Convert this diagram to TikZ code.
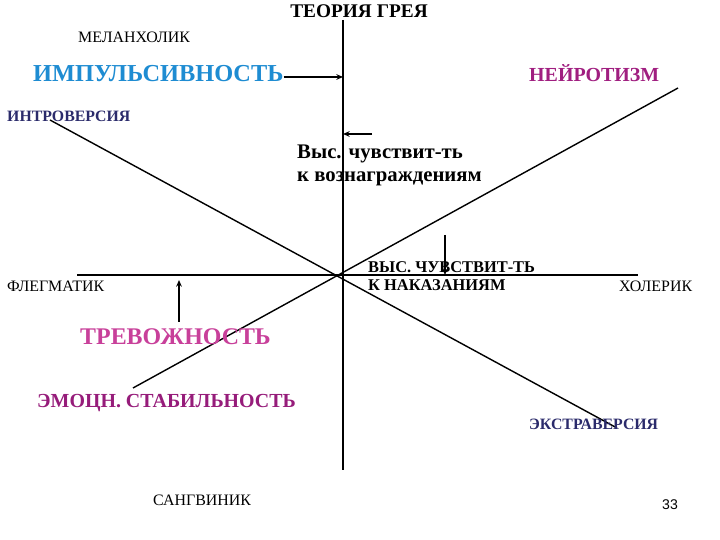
\documentclass[tikz,border=0pt]{standalone}
\usepackage{fontspec}
\setmainfont{Liberation Serif}
\newfontfamily\pagenumfont{Liberation Sans}
\usetikzlibrary{arrows.meta, positioning}
\definecolor{impulsblue}{RGB}{30,140,210}
\definecolor{neuropurple}{RGB}{160,30,128}
\definecolor{versnavy}{RGB}{43,43,107}
\definecolor{anxpink}{RGB}{200,64,154}
\definecolor{stabpurple}{RGB}{150,28,122}
\tikzset{
  % Text styles
  txt/.style={inner sep=0pt, anchor=base west},
  temper/.style={txt, font=\fontsize{13.6}{16}\selectfont},
  factor/.style={txt, font=\bfseries\fontsize{#1}{#1}\selectfont},
  factor/.default={13.5},
  % Line styles
  axis/.style={line width=0.9pt},
  diag/.style={line width=1.2pt},
  arrow/.style={-{Stealth[length=2mm, width=1.7mm]}, line width=1.3pt},
}

\begin{document}
\begin{tikzpicture}[x=0.03cm, y=-0.03cm]
    \useasboundingbox (0,0) rectangle (720,540);

    % Axes
    \coordinate (axtop) at (343,20);
    \coordinate (axbot) at (343,470);
    \coordinate (axleft) at (77,275);
    \coordinate (axright) at (638,275);
    \draw[axis] (axtop) -- (axbot);
    \draw[axis] (axleft) -- (axright);

    % Diagonals
    \coordinate (introend) at (50,120);
    \coordinate (extraend) at (617,428);
    \coordinate (stabend) at (133,388);
    \coordinate (neuroend) at (678,88);
    \draw[diag] (introend) -- (extraend);
    \draw[diag] (stabend) -- (neuroend);

    % Title
    \node[inner sep=0pt, anchor=base, font=\bfseries\fontsize{16.5}{16.5}\selectfont] (title) at (359,18) {ТЕОРИЯ ГРЕЯ};

    % Temperaments
    \node[temper] (melan) at (78,43) {МЕЛАНХОЛИК};
    \node[temper] (phleg) at (7,292) {ФЛЕГМАТИК};
    \node[temper] (chol) at (619,292) {ХОЛЕРИК};
    \node[temper] (sang) at (153,505) {САНГВИНИК};

    % Factors
    \node[factor=20.8, text=impulsblue] (impuls) at (33,82) {ИМПУЛЬСИВНОСТЬ};
    \node[factor=17, text=neuropurple] (neuro) at (529,82) {НЕЙРОТИЗМ};
    \node[factor, text=versnavy] (intro) at (7,122) {ИНТРОВЕРСИЯ};
    \node[factor, text=versnavy] (extra) at (529,429) {ЭКСТРАВЕРСИЯ};
    \node[factor=20.4, text=anxpink] (anx) at (80,345) {ТРЕВОЖНОСТЬ};
    \node[factor=17, text=stabpurple] (stab) at (37,408) {ЭМОЦН. СТАБИЛЬНОСТЬ};

    % Sensitivities (base = last line)
    \node[txt, align=left, font=\bfseries\fontsize{17.7}{20.4}\selectfont] (reward) at (297,182) {Выс. чувствит-ть\\к вознаграждениям};
    \node[txt, align=left, font=\bfseries\fontsize{14}{16.2}\selectfont] (punish) at (368,291) {ВЫС. ЧУВСТВИТ-ТЬ\\К НАКАЗАНИЯМ};

    % Page number
    \node[txt, font=\pagenumfont\fontsize{12}{12}\selectfont] (pagenum) at (662,509) {33};

    % === Arrows ===
    \coordinate (impulshead) at (343,77);
    \draw[arrow] (impuls.east |- impulshead) -- (impulshead);

    \coordinate (rewardtail) at (372,134);
    \coordinate (rewardhead) at (343,134);
    \draw[arrow] (rewardtail) -- (rewardhead);

    \coordinate (punishtail) at (445,235);
    \coordinate (punishhead) at (445,275);
    \draw[arrow] (punishtail) -- (punishhead);

    \coordinate (anxtail) at (179,322);
    \coordinate (anxhead) at (179,280);
    \draw[arrow] (anxtail) -- (anxhead);
\end{tikzpicture}
\end{document}
